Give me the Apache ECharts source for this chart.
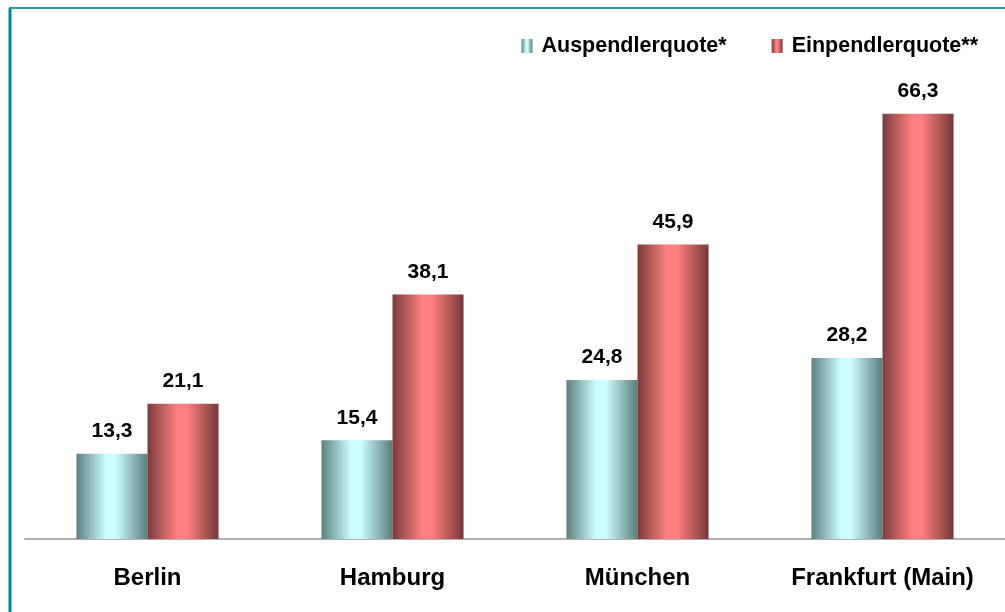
<!DOCTYPE html>
<html>
<head>
<meta charset="utf-8">
<script src="https://cdn.jsdelivr.net/npm/echarts@6/dist/echarts.min.js"></script>
<style>
  html, body { margin: 0; padding: 0; background: #fff; }
  #chart { width: 1005px; height: 612px; }
</style>
</head>
<body>
<div id="chart"></div>
<script>
// data
const cities = ["Berlin", "Hamburg", "München", "Frankfurt (Main)"];
const auspendler = [13.3, 15.4, 24.8, 28.2];
const einpendler = [21.1, 38.1, 45.9, 66.3];
const seriesNames = ["Auspendlerquote*", "Einpendlerquote**"];

const font = "Liberation Sans, Arial, sans-serif";

// cylinder-ish horizontal gradient
function grad(edgeL, mid, edgeR) {
  return new echarts.graphic.LinearGradient(0, 0, 1, 0, [
    { offset: 0, color: edgeL },
    { offset: 0.42, color: mid },
    { offset: 0.55, color: mid },
    { offset: 1, color: edgeR },
  ]);
}
const tealGrad = grad("#5f8080", "#ccffff", "#5d7c7c");
const redGrad = grad("#7a3c3c", "#ff8080", "#773838");

const fmt = (p) => p.value.toFixed(1).replace(".", ",");

const barLabel = {
  show: true,
  position: "top",
  distance: 12,
  formatter: fmt,
  fontFamily: font,
  fontWeight: "bold",
  fontSize: 21,
  color: "#000",
};

const chart = echarts.init(document.getElementById("chart"));
chart.setOption({
  animation: false,
  backgroundColor: "#fff",
  grid: { left: 25, right: 0, top: 90, bottom: 73 },
  legend: {
    top: 30,
    right: 22,
    itemWidth: 11,
    itemHeight: 14,
    itemGap: 45,
    icon: "rect",
    textStyle: {
      fontFamily: font,
      fontWeight: "bold",
      fontSize: 21.5,
      color: "#000",
      padding: [0, 0, 0, 4],
    },
    data: seriesNames,
  },
  xAxis: {
    type: "category",
    data: cities,
    axisLine: { lineStyle: { color: "#b0b0b0", width: 2 } },
    axisTick: { show: false },
    axisLabel: {
      margin: 27,
      fontFamily: font,
      fontWeight: "bold",
      fontSize: 24,
      color: "#000",
    },
  },
  yAxis: {
    type: "value",
    min: 0,
    max: 70,
    show: false,
  },
  series: [
    {
      name: seriesNames[0],
      type: "bar",
      data: auspendler,
      barGap: 0,
      barCategoryGap: "42%",
      itemStyle: { color: tealGrad },
      label: barLabel,
    },
    {
      name: seriesNames[1],
      type: "bar",
      data: einpendler,
      barGap: 0,
      barCategoryGap: "42%",
      itemStyle: { color: redGrad },
      label: barLabel,
    },
  ],
  graphic: [
    {
      type: "line",
      shape: { x1: 10, y1: 8, x2: 10, y2: 612 },
      style: { stroke: "#008a87", lineWidth: 3 },
    },
    {
      type: "line",
      shape: { x1: 9, y1: 8, x2: 1005, y2: 8 },
      style: { stroke: "#2a9d99", lineWidth: 2 },
    },
  ],
});
</script>
</body>
</html>
